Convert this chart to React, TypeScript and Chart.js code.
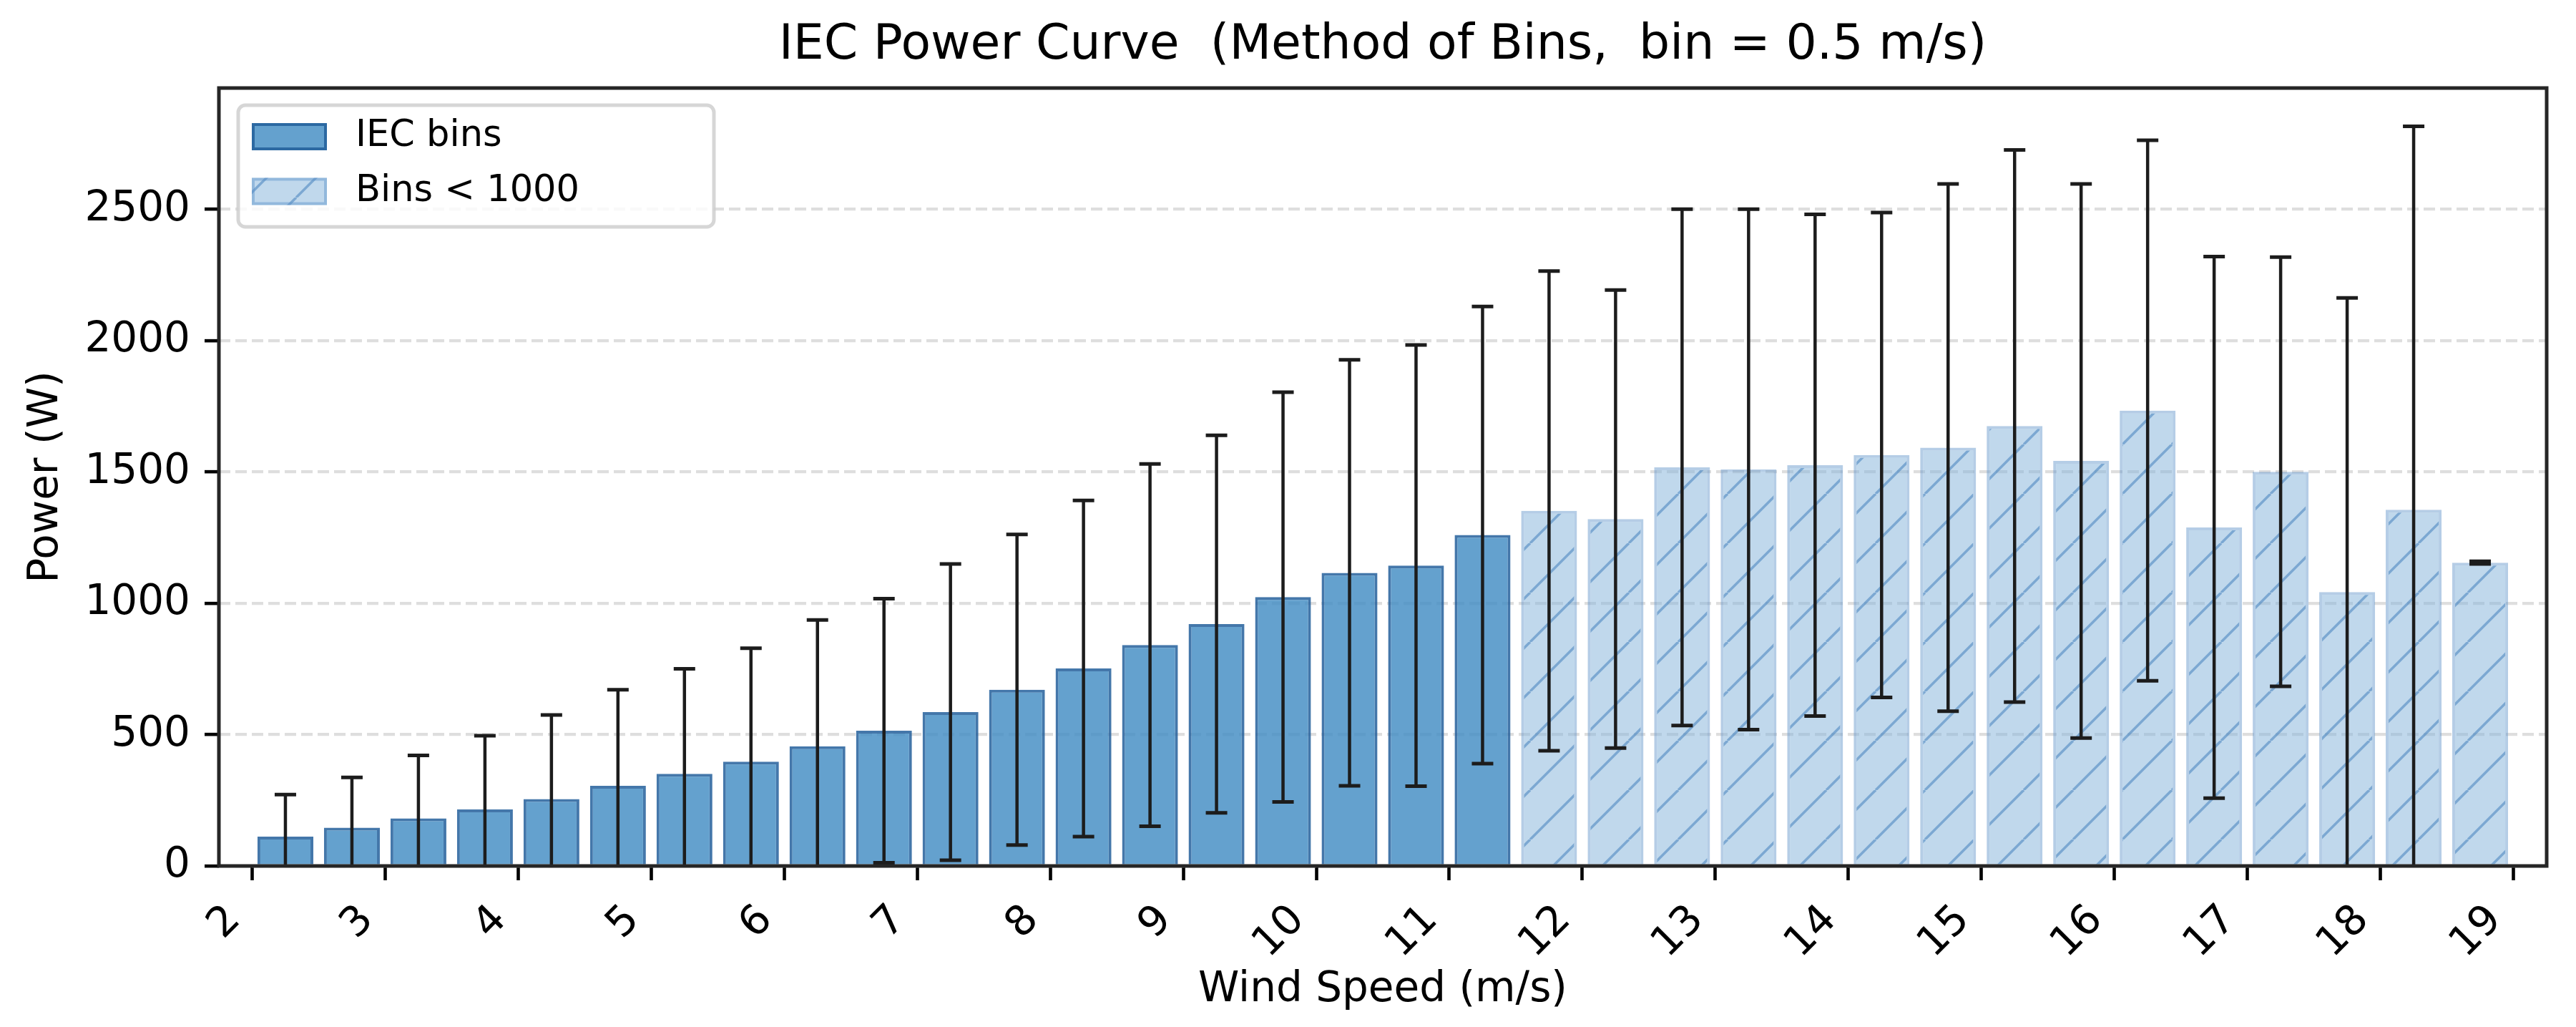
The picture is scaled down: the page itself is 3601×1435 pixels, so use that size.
import React, { useEffect, useRef } from 'react';
import { Chart, registerables } from 'chart.js';

Chart.register(...registerables);

// Bin centres (m/s), mean power and standard deviation per bin
const iecBinSpeeds = [2.25, 2.75, 3.25, 3.75, 4.25, 4.75, 5.25, 5.75, 6.25, 6.75, 7.25, 7.75, 8.25, 8.75, 9.25, 9.75, 10.25, 10.75, 11.25];
const iecBinPower = [112, 146, 181, 215, 255, 305, 351, 397, 456, 515, 586, 671, 752, 841, 921, 1024, 1116, 1144, 1260];
const iecBinStd = [160, 191, 240, 281, 320, 366, 400, 432, 481, 503, 564, 591, 640, 690, 719, 780, 811, 840, 870];

// bins with fewer than 1000 samples
const sparseBinSpeeds = [11.75, 12.25, 12.75, 13.25, 13.75, 14.25, 14.75, 15.25, 15.75, 16.25, 16.75, 17.25, 17.75, 18.25, 18.75];
const sparseBinPower = [1352, 1321, 1518, 1510, 1526, 1565, 1593, 1675, 1542, 1734, 1289, 1501, 1043, 1356, 1155];
const sparseBinStd = [913, 872, 983, 991, 955, 923, 1004, 1051, 1055, 1029, 1031, 817, 1120, 1460, 5];

const speedTicks = [2, 3, 4, 5, 6, 7, 8, 9, 10, 11, 12, 13, 14, 15, 16, 17, 18, 19];
const powerTicks = [0, 500, 1000, 1500, 2000, 2500];

const FONT = "'DejaVu Sans', sans-serif";
const DARK_FILL = 'rgba(61, 137, 194, 0.8)';
const DARK_EDGE = 'rgba(35, 95, 155, 0.85)';
const LIGHT_FILL = 'rgba(130, 178, 218, 0.5)';
const LIGHT_EDGE = 'rgba(90, 145, 200, 0.45)';
const HATCH = 'rgba(70, 130, 190, 0.55)';

document.body.style.margin = '0';
document.body.style.overflow = 'hidden';

function makeHatch(ctx: CanvasRenderingContext2D): CanvasPattern | string {
  const size = 69;
  const tile = document.createElement('canvas');
  tile.width = size;
  tile.height = size;
  const g = tile.getContext('2d');
  if (!g) return LIGHT_FILL;
  g.fillStyle = LIGHT_FILL;
  g.fillRect(0, 0, size, size);
  g.strokeStyle = HATCH;
  g.lineWidth = 3.5;
  for (const k of [-1, 0, 1]) {
    g.beginPath();
    g.moveTo(k * size, size);
    g.lineTo(k * size + size, 0);
    g.stroke();
  }
  return ctx.createPattern(tile, 'repeat') || LIGHT_FILL;
}

const errorBars = {
  id: 'errorBars',
  afterDatasetsDraw(chart: any) {
    const { ctx, chartArea: a, scales } = chart;
    const x = scales.x;
    const y = scales.y;
    ctx.save();
    ctx.beginPath();
    ctx.rect(a.left, a.top, a.right - a.left, a.bottom - a.top);
    ctx.clip();
    ctx.strokeStyle = '#1c1c1c';
    chart.data.datasets.forEach((ds: any) => {
      ds.data.forEach((pt: { x: number; y: number }, i: number) => {
        const err = ds.errors[i];
        const px = x.getPixelForValue(pt.x);
        const top = y.getPixelForValue(pt.y + err);
        const bot = y.getPixelForValue(pt.y - err);
        ctx.lineWidth = 4.5;
        ctx.beginPath();
        ctx.moveTo(px, top);
        ctx.lineTo(px, bot);
        ctx.stroke();
        ctx.lineWidth = 5;
        ctx.beginPath();
        ctx.moveTo(px - 15, top);
        ctx.lineTo(px + 15, top);
        ctx.moveTo(px - 15, bot);
        ctx.lineTo(px + 15, bot);
        ctx.stroke();
      });
    });
    ctx.restore();
  },
};

const frameAndLegend = {
  id: 'frameAndLegend',
  afterDraw(chart: any) {
    const { ctx, chartArea: a } = chart;
    ctx.save();
    // spines
    ctx.strokeStyle = '#262626';
    ctx.lineWidth = 5;
    ctx.strokeRect(a.left, a.top, a.right - a.left, a.bottom - a.top);

    // legend
    const bx = a.left + 27;
    const by = a.top + 24;
    ctx.beginPath();
    ctx.roundRect(bx, by, 665, 170, 10);
    ctx.fillStyle = 'rgba(255, 255, 255, 0.8)';
    ctx.fill();
    ctx.lineWidth = 5;
    ctx.strokeStyle = 'rgba(204, 204, 204, 0.8)';
    ctx.stroke();

    chart.data.datasets.forEach((ds: any, i: number) => {
      const hy = by + 25 + i * 76.5;
      ctx.fillStyle = ds.backgroundColor;
      ctx.fillRect(bx + 19, hy, 105, 38);
      ctx.strokeStyle = ds.borderColor;
      ctx.lineWidth = 4;
      ctx.strokeRect(bx + 21, hy + 2, 101, 34);
      ctx.fillStyle = '#000';
      ctx.font = `51px ${FONT}`;
      ctx.textAlign = 'left';
      ctx.textBaseline = 'middle';
      ctx.fillText(ds.label, bx + 164, hy + 19);
    });
    ctx.restore();
  },
};

const PowerCurveChart: React.FC = () => {
  const canvasRef = useRef<HTMLCanvasElement>(null);

  useEffect(() => {
    const canvas = canvasRef.current;
    if (!canvas) return;
    const ctx = canvas.getContext('2d');
    if (!ctx) return;
    const hatch = makeHatch(ctx);

    const tickFont = { family: FONT, size: 58 };

    const chart = new Chart(ctx, {
      type: 'bar',
      data: {
        datasets: [
          {
            label: 'IEC bins',
            data: iecBinSpeeds.map((s, i) => ({ x: s, y: iecBinPower[i] })),
            errors: iecBinStd,
            backgroundColor: DARK_FILL,
            borderColor: DARK_EDGE,
            borderWidth: 4,
            grouped: false,
            barPercentage: 0.84,
            categoryPercentage: 1,
          } as any,
          {
            label: 'Bins < 1000',
            data: sparseBinSpeeds.map((s, i) => ({ x: s, y: sparseBinPower[i] })),
            errors: sparseBinStd,
            backgroundColor: hatch,
            borderColor: LIGHT_EDGE,
            borderWidth: 4,
            grouped: false,
            barPercentage: 0.84,
            categoryPercentage: 1,
          } as any,
        ],
      },
      options: {
        responsive: true,
        maintainAspectRatio: false,
        animation: false,
        events: [],
        layout: { padding: { left: 0, right: 41, top: 0, bottom: 0 }, autoPadding: false },
        plugins: {
          legend: { display: false },
          tooltip: { enabled: false },
          title: {
            display: true,
            fullSize: false,
            text: 'IEC Power Curve  (Method of Bins,  bin = 0.5 m/s)',
            color: '#000',
            font: { family: FONT, size: 68, weight: 'normal', lineHeight: 1.2 },
            padding: { top: 24, bottom: 17.4 },
          },
        },
        scales: {
          x: {
            type: 'linear',
            min: 1.75,
            max: 19.25,
            offset: false,
            afterBuildTicks: (axis: any) => {
              axis.ticks = speedTicks.map((value) => ({ value }));
            },
            afterFit: (axis: any) => {
              axis.height = 225;
            },
            grid: {
              display: true,
              drawOnChartArea: false,
              drawTicks: true,
              tickLength: 20,
              tickWidth: 4.6,
              tickColor: '#000',
              offset: false,
            },
            border: { display: false },
            ticks: {
              autoSkip: false,
              minRotation: 45,
              maxRotation: 45,
              padding: 22,
              labelOffset: -25,
              color: '#000',
              font: tickFont,
              callback: (v: any) => String(v),
            },
            title: {
              display: true,
              text: 'Wind Speed (m/s)',
              color: '#000',
              font: { family: FONT, size: 58, lineHeight: 1.2 },
              padding: { top: 0, bottom: 16 },
            },
          },
          y: {
            type: 'linear',
            min: 0,
            max: 2962,
            afterBuildTicks: (axis: any) => {
              axis.ticks = powerTicks.map((value) => ({ value }));
            },
            afterFit: (axis: any) => {
              axis.width = 306;
            },
            grid: {
              color: '#dedede',
              lineWidth: 4.3,
              drawTicks: true,
              tickLength: 20,
              tickWidth: 4.6,
              tickColor: '#000',
            },
            border: { display: false, dash: [16, 7] },
            ticks: {
              padding: 20,
              color: '#000',
              font: tickFont,
              callback: (v: any) => String(v),
            },
            title: {
              display: true,
              text: 'Power (W)',
              color: '#000',
              font: { family: FONT, size: 58, lineHeight: 1.2 },
              padding: { top: 30, bottom: 0 },
            },
          },
        },
      } as any,
      plugins: [errorBars, frameAndLegend],
    });

    return () => {
      chart.destroy();
    };
  }, []);

  return <canvas ref={canvasRef} />;
};

export default function App() {
  return (
    <div style={{ width: '3601px', height: '1435px', position: 'relative' }}>
      <PowerCurveChart />
    </div>
  );
}
